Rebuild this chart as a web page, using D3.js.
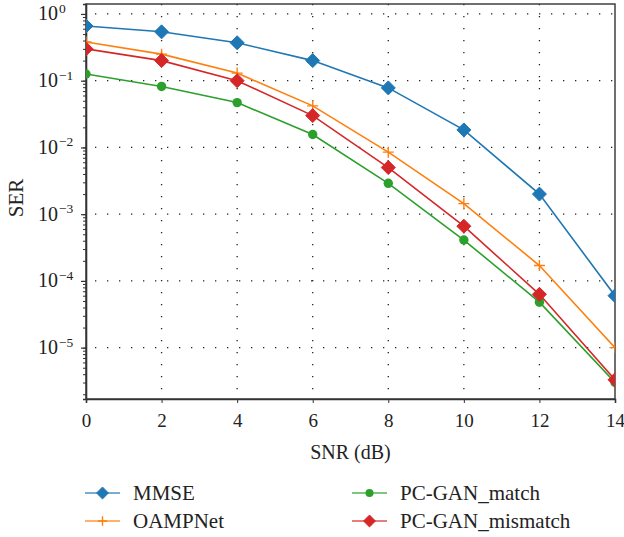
<!DOCTYPE html>
<html><head><meta charset="utf-8">
<script src="https://cdn.jsdelivr.net/npm/d3@7"></script>
<style>body{margin:0;background:#fff}</style>
</head><body><svg id="c" width="624" height="537" font-family="Liberation Serif, DejaVu Serif, serif"></svg>
<script>
const snr = [0, 2, 4, 6, 8, 10, 12, 14];
const mmse = [0.66, 0.54, 0.37, 0.20, 0.078, 0.0183, 0.0020, 6.0e-5];
const oampnet = [0.38, 0.25, 0.13, 0.042, 0.0085, 0.00144, 1.7e-4, 1.0e-5];
const pcganMatch = [0.126, 0.082, 0.047, 0.0156, 0.0029, 4.1e-4, 4.8e-5, 3.0e-6];
const pcganMismatch = [0.30, 0.20, 0.10, 0.030, 0.0050, 6.6e-4, 6.3e-5, 3.3e-6];
const xTicks = [0, 2, 4, 6, 8, 10, 12, 14];
const yTickExps = [0, -1, -2, -3, -4, -5];

const series = [
  {name: "MMSE", values: mmse, color: "#1f77b4", marker: "diamond"},
  {name: "OAMPNet", values: oampnet, color: "#ff7f0e", marker: "plus"},
  {name: "PC-GAN_match", values: pcganMatch, color: "#2ca02c", marker: "circle"},
  {name: "PC-GAN_mismatch", values: pcganMismatch, color: "#d62728", marker: "diamond"}
];

const FONT = "'Liberation Serif', 'DejaVu Serif', serif";
const svg = d3.select("#c");
const L = 86, R = 615, T = 4, B = 399;
const x = d3.scaleLinear().domain([0, 14]).range([L, R]);
const y = d3.scaleLog().domain([1.7e-6, 1.41]).range([B, T]);

svg.append("clipPath").attr("id", "clip").append("rect")
  .attr("x", L).attr("y", T).attr("width", R - L).attr("height", B - T);

// grid
const grid = svg.append("g");
xTicks.slice(1, -1).forEach(v => grid.append("line")
  .attr("x1", x(v)).attr("x2", x(v)).attr("y1", T).attr("y2", B)
  .attr("stroke", "#222").attr("stroke-width", 1.3).attr("stroke-dasharray", "1.3,10.7"));
yTickExps.forEach(e => grid.append("line")
  .attr("x1", L).attr("x2", R).attr("y1", y(Math.pow(10, e))).attr("y2", y(Math.pow(10, e)))
  .attr("stroke", "#222").attr("stroke-width", 1.3).attr("stroke-dasharray", "1.3,10.7")
  .attr("stroke-dashoffset", -9));

// frame
svg.append("rect").attr("x", L).attr("y", T).attr("width", R - L).attr("height", B - T)
  .attr("fill", "none").attr("stroke", "#333").attr("stroke-width", 1.4);

// x axis
const xa = svg.append("g").attr("transform", `translate(0,${B})`)
  .call(d3.axisBottom(x).tickValues(xTicks).tickSize(4).tickPadding(11).tickFormat(d3.format("d")));
xa.attr("font-family", null).attr("font-size", null);
xa.select(".domain").attr("stroke", "#333").attr("stroke-width", 1.6);
xa.selectAll("line").attr("stroke", "#333");
xa.selectAll("text").attr("font-size", 19).attr("fill", "#222");

// y axis minor + major
const ya = svg.append("g").attr("transform", `translate(${L},0)`)
  .call(d3.axisLeft(y).ticks(20).tickSize(3).tickFormat(""));
ya.select(".domain").attr("stroke", "#333").attr("stroke-width", 1.6);
ya.selectAll("line").attr("stroke", "#333");
const yMaj = svg.append("g").attr("transform", `translate(${L},0)`)
  .call(d3.axisLeft(y).tickValues(yTickExps.map(e => Math.pow(10, e))).tickSize(5).tickFormat(""));
yMaj.select(".domain").remove();
yMaj.selectAll("line").attr("stroke", "#333").attr("stroke-width", 1.2);

yTickExps.forEach(e => {
  const yy = y(Math.pow(10, e));
  svg.append("text").attr("x", 58).attr("y", yy + 6.5)
    .attr("text-anchor", "end").attr("font-size", 20).text("10");
  svg.append("text").attr("x", 59).attr("y", yy - 1)
    .attr("font-size", 13.5).text(e === 0 ? "0" : "\u2212" + (-e));
});

// labels
svg.append("text").attr("x", x(7)).attr("y", 459).attr("text-anchor", "middle")
  .attr("font-size", 20).text("SNR (dB)");
svg.append("text").attr("transform", `translate(23,198) rotate(-90)`)
  .attr("text-anchor", "middle").attr("font-size", 21).text("SER");

function drawMarker(g, type, cx, cy, color, scale) {
  scale = scale || 1;
  if (type === "diamond") {
    const s = 7 * scale;
    g.append("path").attr("d", `M${cx},${cy - s}L${cx + s},${cy}L${cx},${cy + s}L${cx - s},${cy}Z`)
      .attr("fill", color).attr("stroke", color).attr("stroke-width", 1);
  } else if (type === "circle") {
    g.append("circle").attr("cx", cx).attr("cy", cy).attr("r", 4.7 * scale).attr("fill", color);
  } else {
    const s = 5.5 * scale;
    g.append("path").attr("d", `M${cx - s},${cy}H${cx + s}M${cx},${cy - s}V${cy + s}`)
      .attr("stroke", color).attr("stroke-width", 1.4).attr("fill", "none");
  }
}

const plot = svg.append("g").attr("clip-path", "url(#clip)");
const line = d3.line().x((d, i) => x(snr[i])).y(d => y(d));
series.forEach(s => {
  const g = plot.append("g");
  g.append("path").datum(s.values).attr("d", line).attr("fill", "none")
    .attr("stroke", s.color).attr("stroke-width", 1.6);
  s.values.forEach((v, i) => drawMarker(g, s.marker, x(snr[i]), y(v), s.color));
});

// legend
const legPos = [[85, 493], [85, 521], [352, 493], [352, 521]];
series.forEach((s, i) => {
  const [lx, ly] = legPos[i];
  const g = svg.append("g");
  g.append("line").attr("x1", lx).attr("x2", lx + 35).attr("y1", ly).attr("y2", ly)
    .attr("stroke", s.color).attr("stroke-width", 1.6).attr("opacity", 0.8);
  drawMarker(g, s.marker, lx + 17.5, ly, s.color, 0.85);
  g.append("text").attr("x", lx + 48).attr("y", ly + 7).attr("font-size", 21).text(s.name);
});

svg.selectAll("text").style("font-family", FONT).attr("fill", "#222");
</script></body></html>
